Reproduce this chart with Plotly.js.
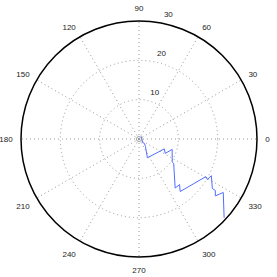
<!DOCTYPE html>
<html><head><meta charset="utf-8">
<script src="https://cdn.plot.ly/plotly-3.0.1.min.js"></script>
<style>html,body{margin:0;padding:0;background:#fff;}#chart{width:277px;height:277px;}</style>
</head><body><div id="chart"></div>
<script>
// path vertices (radius, angle in degrees)
var rho   = [0.89, 1.25, 1.79, 2.50, 5.24, 6.90, 7.61, 8.84, 10.24, 10.84, 15.49, 15.52, 16.96, 19.51, 20.22, 20.62, 22.49, 23.41, 24.21, 25.37, 29.50];
var theta = [45, 315, 320.8, 311, 294.1, 338.6, 331.3, 342.6, 325.5, 324.5, 306.4, 311.7, 308.1, 330.6, 329.3, 333.1, 326.0, 326.0, 323.3, 327.6, 317.2];
var originR = [0];
var originT = [0];
var angleTicks = [0, 30, 60, 90, 120, 150, 180, 210, 240, 270, 300, 330];
var angleLabels = ['0','30','60','90','120','150','180','210','240','270','300','330'];
var radialTicks = [10, 20, 30];
var radialLabels = ['10','20','30'];

var traces = [
  {type:'scatterpolar', mode:'lines', r:rho, theta:theta,
   line:{color:'rgb(80,110,255)', width:1}, hoverinfo:'skip'},
  {type:'scatterpolar', mode:'markers', r:originR, theta:originT,
   marker:{symbol:'circle-open', size:5, color:'#888', line:{width:0.8}}, hoverinfo:'skip'}
];
var layout = {
  width:277, height:277,
  margin:{l:21, r:20, t:21, b:20},
  paper_bgcolor:'#fff', plot_bgcolor:'#fff',
  showlegend:false,
  font:{family:'Liberation Sans, Arial, sans-serif', size:8, color:'#222'},
  polar:{
    bgcolor:'#fff',
    domain:{x:[0,1], y:[0,1]},
    radialaxis:{range:[0,30], tickvals:radialTicks,
      ticktext:radialLabels.map(function(t){return t + '<br>&nbsp;<br>&nbsp;';}),
      angle:80, side:'clockwise', showline:false, ticks:'', tickangle:80,
      gridcolor:'#999', griddash:'1px,3px', gridwidth:1,
      tickfont:{size:8, color:'#222'}},
    angularaxis:{tickvals:angleTicks, ticktext:angleLabels, direction:'counterclockwise', rotation:0,
      showline:true, linecolor:'#000', linewidth:1.5, ticks:'outside', ticklen:6, tickcolor:'rgba(0,0,0,0)',
      gridcolor:'#999', griddash:'1px,3px', gridwidth:1,
      tickfont:{size:8, color:'#222'}}
  }
};
Plotly.newPlot('chart', traces, layout, {staticPlot:true, displayModeBar:false});
</script></body></html>
